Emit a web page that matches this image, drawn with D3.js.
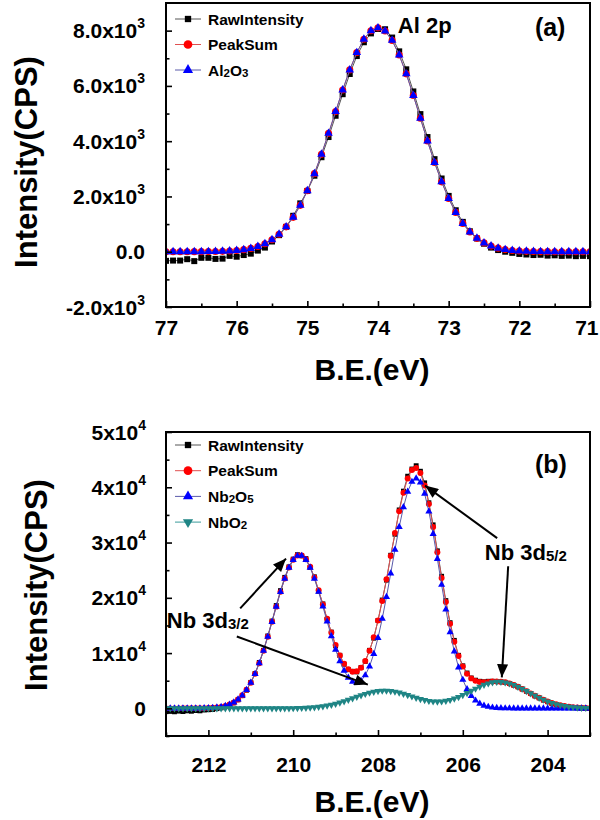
<!DOCTYPE html>
<html><head><meta charset="utf-8">
<script src="https://cdn.jsdelivr.net/npm/d3@7"></script>
<style>body{margin:0;background:#fff}svg{display:block}</style>
</head><body><svg id="c" width="600" height="820"></svg>
<script>
// ---------- Panel (a) data: Al 2p ----------
const topBE = [77.0,76.9,76.8,76.7,76.6,76.5,76.4,76.3,76.2,76.1,76.0,75.9,75.8,75.7,75.6,75.5,75.4,75.3,75.2,75.1,75.0,74.9,74.8,74.7,74.6,74.5,74.4,74.3,74.2,74.1,74.0,73.9,73.8,73.7,73.6,73.5,73.4,73.3,73.2,73.1,73.0,72.9,72.8,72.7,72.6,72.5,72.4,72.3,72.2,72.1,72.0,71.9,71.8,71.7,71.6,71.5,71.4,71.3,71.2,71.1,71.0];
const topRaw = [-330,-320,-320,-270,-340,-220,-220,-260,-250,-150,-180,-120,-70,40,150,370,600,900,1300,1750,2200,2750,3420,4150,4920,5700,6430,7080,7580,7900,8060,8050,7750,7250,6600,5800,4980,4150,3350,2650,2020,1500,1080,740,480,290,150,60,0,-40,-80,-100,-120,-110,-140,-130,-150,-140,-160,-150,-160];
const topAl2O3 = [0,0,0,1,2,3,5,8,15,26,45,74,120,189,290,434,634,900,1245,1678,2205,2824,3524,4283,5071,5850,6578,7205,7690,7995,8100,7985,7647,7118,6436,5655,4830,4005,3229,2529,1925,1423,1024,713,485,319,205,128,77,45,26,15,8,4,2,1,0,0,0,0,0];
const topPeakSum = [0,0,0,1,2,3,5,8,15,26,45,74,120,189,290,434,634,900,1245,1678,2205,2824,3524,4283,5071,5850,6578,7205,7690,7995,8100,7985,7647,7118,6436,5655,4830,4005,3229,2529,1925,1423,1024,713,485,319,205,128,77,45,26,15,8,4,2,1,0,0,0,0,0];
const topXTicks = [77,76,75,74,73,72,71];
const topXMinor = [76.5,75.5,74.5,73.5,72.5,71.5];
const topYTicks = [-2000,0,2000,4000,6000,8000];
const topYMinor = [-1000,1000,3000,5000,7000];
const topYLabel = ["-2.0x10","0.0","2.0x10","4.0x10","6.0x10","8.0x10"];
const topYExp = ["3","","3","3","3","3"];

// ---------- Panel (b) data: Nb 3d ----------
const botBE = [213.0,212.9,212.8,212.7,212.6,212.5,212.4,212.3,212.2,212.1,212.0,211.9,211.8,211.7,211.6,211.5,211.4,211.3,211.2,211.1,211.0,210.9,210.8,210.7,210.6,210.5,210.4,210.3,210.2,210.1,210.0,209.9,209.8,209.7,209.6,209.5,209.4,209.3,209.2,209.1,209.0,208.9,208.8,208.7,208.6,208.5,208.4,208.3,208.2,208.1,208.0,207.9,207.8,207.7,207.6,207.5,207.4,207.3,207.2,207.1,207.0,206.9,206.8,206.7,206.6,206.5,206.4,206.3,206.2,206.1,206.0,205.9,205.8,205.7,205.6,205.5,205.4,205.3,205.2,205.1,205.0,204.9,204.8,204.7,204.6,204.5,204.4,204.3,204.2,204.1,204.0,203.9,203.8,203.7,203.6,203.5,203.4,203.3,203.2,203.1,203.0];
const botRaw = [-600,-550,-620,-500,-580,-450,-520,-400,-450,-300,-250,-200,-50,100,350,600,1000,1550,2300,3300,4700,6300,8300,10500,13100,15800,18600,21300,23700,25600,27000,27800,27600,27100,25500,23800,21200,18900,16100,13800,11300,9600,8000,7000,6700,6600,7400,8500,10500,12700,15900,19600,23200,27700,31500,35900,39300,42000,43300,43900,42900,40800,37200,33200,28500,23900,19500,15500,12300,9600,7700,6400,5500,5100,4900,4800,4900,4900,4850,4800,4700,4500,4200,3900,3500,3100,2700,2250,1900,1500,1200,900,700,500,350,250,150,100,50,0,-20];
const botPeakSum = [0,0,0,0,1,2,4,8,16,30,54,95,160,270,440,700,1080,1610,2360,3350,4640,6240,8181,10431,12952,15653,18404,21077,23481,25478,26899,27654,27676,26967,25604,23677,21362,18805,16208,13710,11455,9559,8084,7101,6623,6699,7340,8583,10414,12852,15877,19422,23371,27557,31733,35657,39028,41597,43137,43502,42567,40315,36958,32814,28252,23605,19229,15321,12048,9471,7564,6240,5423,4974,4782,4747,4795,4851,4872,4831,4712,4513,4241,3906,3525,3119,2704,2297,1911,1559,1245,975,747,562,414,299,211,146,99,66,43];
const botNb2O5 = [0,0,0,0,1,2,4,8,16,30,54,95,160,270,440,700,1080,1610,2360,3350,4640,6240,8180,10430,12950,15650,18400,21070,23470,25460,26870,27610,27610,26870,25464,23478,21086,18431,15710,13060,10625,8520,6810,5570,4820,4620,4990,5980,7590,9850,12750,16230,20175,24424,28720,32816,36398,39204,40992,41600,40890,38830,35620,31570,27040,22360,17880,13800,10290,7420,5170,3470,2260,1420,860,500,285,156,82,42,21,10,5,2,0,0,0,0,0,0,0,0,0,0,0,0,0,0,0,0,0];
const botNbO2 = [0,0,0,0,0,0,0,0,0,0,0,0,0,0,0,0,0,0,0,0,0,0,1,1,2,3,4,7,11,18,29,44,66,97,140,199,276,374,498,650,830,1039,1274,1531,1803,2079,2350,2603,2824,3002,3127,3192,3196,3133,3013,2841,2630,2393,2145,1902,1677,1485,1338,1244,1212,1245,1349,1521,1758,2051,2394,2770,3163,3554,3922,4247,4510,4695,4790,4789,4691,4503,4236,3904,3525,3119,2704,2297,1911,1559,1245,975,747,562,414,299,211,146,99,66,43];
const botXTicks = [212,210,208,206,204];
const botXMinor = [213,211,209,207,205,203];
const botYTicks = [0,10000,20000,30000,40000,50000];
const botYMinor = [-5000,5000,15000,25000,35000,45000];
const botYLabel = ["0","1x10","2x10","3x10","4x10","5x10"];
const botYExp = ["","4","4","4","4","4"];

// ---------- drawing ----------
const FONT = 'Arial, "Liberation Sans", Helvetica, sans-serif';
const svg = d3.select('#c').attr('font-family', FONT);
const defs = svg.append('defs');
defs.append('marker').attr('id','arrow').attr('viewBox','0 0 12 10')
  .attr('refX',12).attr('refY',5).attr('markerWidth',14).attr('markerHeight',11)
  .attr('markerUnits','userSpaceOnUse').attr('orient','auto')
  .append('path').attr('d','M0,0 L12,5 L0,10 Z').attr('fill','#000');

const SYM = {
  square: d3.symbolSquare, circle: d3.symbolCircle,
  triangle: d3.symbolTriangle, down: d3.symbolTriangle
};

function drawPanel(o){
  const x = d3.scaleLinear().domain(o.xDomain).range([o.left, o.right]);
  const y = d3.scaleLinear().domain(o.yDomain).range([o.bottom, o.top]);
  const g = svg.append('g');
  defs.append('clipPath').attr('id','clip'+o.id).append('rect')
    .attr('x',o.left).attr('y',o.top).attr('width',o.right-o.left).attr('height',o.bottom-o.top);

  // series
  const plot = g.append('g').attr('clip-path',`url(#clip${o.id})`);
  o.series.forEach(s=>{
    const pts = o.be.map((b,i)=>[b, s.values[i]]);
    plot.append('path').datum(pts).attr('fill','none').attr('stroke',s.line)
      .attr('stroke-width',1).attr('d', d3.line().x(d=>x(d[0])).y(d=>y(d[1])));
    const sym = d3.symbol().type(SYM[s.shape]).size(s.size);
    plot.append('g').selectAll('path').data(pts).join('path')
      .attr('d', sym)
      .attr('transform', d=>`translate(${x(d[0])},${y(d[1])})` + (s.shape==='down'?' rotate(180)':''))
      .attr('fill', s.color);
  });

  // axes (inward ticks)
  const ax = g.append('g').attr('transform',`translate(0,${o.bottom})`)
    .call(d3.axisBottom(x).tickValues(o.xTicks).tickSize(-6).tickPadding(o.xPad).tickFormat(d3.format('d')));
  ax.select('.domain').remove();
  ax.attr('font-family',FONT).attr('font-size',21).attr('font-weight','bold');
  ax.selectAll('line').attr('stroke','#000').attr('stroke-width',1.6);
  ax.selectAll('text').attr('fill','#000');
  // keep the last label inside the picture, as the reference does
  ax.selectAll('.tick').filter(d=>x(d) > o.right - 1).select('text').attr('text-anchor','end').attr('x',8);
  const axm = g.append('g').attr('transform',`translate(0,${o.bottom})`)
    .call(d3.axisBottom(x).tickValues(o.xMinor).tickSize(-3.5).tickFormat(''));
  axm.select('.domain').remove();
  axm.selectAll('line').attr('stroke','#000').attr('stroke-width',1.6);

  const ay = g.append('g').attr('transform',`translate(${o.left},0)`)
    .call(d3.axisLeft(y).tickValues(o.yTicks).tickSize(-6).tickFormat(''));
  ay.select('.domain').remove();
  ay.selectAll('line').attr('stroke','#000').attr('stroke-width',1.6);
  const aym = g.append('g').attr('transform',`translate(${o.left},0)`)
    .call(d3.axisLeft(y).tickValues(o.yMinor).tickSize(-3.5).tickFormat(''));
  aym.select('.domain').remove();
  aym.selectAll('line').attr('stroke','#000').attr('stroke-width',1.6);

  // y tick labels with superscripts
  o.yTicks.forEach((v,i)=>{
    const t = g.append('text').attr('x',o.yLabelX).attr('y',y(v)+7.5)
      .attr('text-anchor','end').attr('font-size',21).attr('font-weight','bold').attr('fill','#000');
    t.append('tspan').text(o.yLabel[i]);
    if(o.yExp[i]) t.append('tspan').attr('dy',-10).attr('font-size',14).text(o.yExp[i]);
  });

  // frame
  g.append('rect').attr('x',o.left).attr('y',o.top).attr('width',o.right-o.left).attr('height',o.bottom-o.top)
    .attr('fill','none').attr('stroke','#000').attr('stroke-width',2);

  // axis titles
  g.append('text').attr('x',372).attr('y',o.xTitleY).attr('text-anchor','middle')
    .attr('font-size',30).attr('font-weight','bold').text('B.E.(eV)');
  g.append('text').attr('transform',`translate(${o.yTitleX},${o.yTitleY}) rotate(-90)`)
    .attr('text-anchor','middle').attr('font-size',31).attr('font-weight','bold').text('Intensity(CPS)');

  // legend
  o.series.forEach((s,i)=>{
    const ly = o.legendY + i*o.legendStep;
    g.append('line').attr('x1',175).attr('x2',201).attr('y1',ly).attr('y2',ly)
      .attr('stroke',s.line).attr('stroke-width',1);
    g.append('path').attr('d', d3.symbol().type(SYM[s.shape]).size(s.legendSize)())
      .attr('transform',`translate(188,${ly})`+(s.shape==='down'?' rotate(180)':''))
      .attr('fill',s.color);
    const t = g.append('text').attr('x',208).attr('y',ly+5.5).attr('font-size',15.5).attr('font-weight','bold');
    s.label.forEach(p=>{
      const ts = t.append('tspan').text(p[0]);
      if(p[1]) ts.attr('font-size',11.5).attr('dy',1.5); else if(t.selectAll('tspan').size()>1) ts.attr('dy',-1.5);
    });
  });

  // text annotations
  (o.texts||[]).forEach(a=>{
    const t = g.append('text').attr('x',x(a.at[0])).attr('y',y(a.at[1]))
      .attr('font-size',a.size).attr('font-weight','bold');
    a.parts.forEach(p=>{
      const ts = t.append('tspan').text(p[0]);
      if(p[1]) ts.attr('font-size',a.subSize).attr('dy',1);
    });
  });
  (o.arrows||[]).forEach(a=>{
    g.append('line').attr('x1',x(a.from[0])).attr('y1',y(a.from[1]))
      .attr('x2',x(a.to[0])).attr('y2',y(a.to[1]))
      .attr('stroke','#000').attr('stroke-width',2).attr('marker-end','url(#arrow)');
  });
}

drawPanel({
  id:'a', left:166, right:590, top:3, bottom:307,
  xDomain:[77,71], yDomain:[-2000,9000], be: topBE,
  xTicks: topXTicks, xMinor: topXMinor, xPad: 13,
  yTicks: topYTicks, yMinor: topYMinor, yLabel: topYLabel, yExp: topYExp, yLabelX: 145,
  xTitleY: 380, yTitleX: 37, yTitleY: 162,
  legendY: 19, legendStep: 25.5,
  series: [
    {values: topRaw, shape:'square', size:36, legendSize:40, color:'#000', line:'#555', label:[['RawIntensity']]},
    {values: topPeakSum, shape:'circle', size:40, legendSize:60, color:'#ff0000', line:'#e05050', label:[['PeakSum']]},
    {values: topAl2O3, shape:'triangle', size:32, legendSize:45, color:'#0000ff', line:'#5a5aaa', label:[['Al'],['2',1],['O'],['3',1]]}
  ],
  texts: [
    {at:[73.72,7910], size:22, parts:[['Al 2p']]},
    {at:[71.78,7800], size:25, parts:[['(a)']]}
  ]
});

drawPanel({
  id:'b', left:166, right:590, top:432, bottom:736,
  xDomain:[213,203], yDomain:[-5000,50000], be: botBE,
  xTicks: botXTicks, xMinor: botXMinor, xPad: 21,
  yTicks: botYTicks, yMinor: botYMinor, yLabel: botYLabel, yExp: botYExp, yLabelX: 146,
  xTitleY: 812, yTitleX: 47, yTitleY: 585,
  legendY: 445, legendStep: 25.7,
  series: [
    {values: botRaw, shape:'square', size:24, legendSize:40, color:'#000', line:'#555', label:[['RawIntensity']]},
    {values: botPeakSum, shape:'circle', size:28, legendSize:60, color:'#ff0000', line:'#e05050', label:[['PeakSum']]},
    {values: botNb2O5, shape:'triangle', size:22, legendSize:45, color:'#0000ff', line:'#5a5aaa', label:[['Nb'],['2',1],['O'],['5',1]]},
    {values: botNbO2, shape:'down', size:22, legendSize:45, color:'#1f8585', line:'#3a9a9a', label:[['NbO'],['2',1]]}
  ],
  texts: [
    {at:[204.30,42500], size:25, parts:[['(b)']]},
    {at:[205.48,26800], size:22, subSize:15, parts:[['Nb 3d'],['5/2',1]]},
    {at:[212.98,14500], size:22, subSize:15, parts:[['Nb 3d'],['3/2',1]]}
  ],
  arrows: [
    {from:[211.25,18100], to:[210.17,27100]},
    {from:[211.33,13000], to:[208.24,4300]},
    {from:[205.19,30800], to:[206.89,40300]},
    {from:[204.93,25700], to:[205.08,5600]}
  ]
});
</script></body></html>
